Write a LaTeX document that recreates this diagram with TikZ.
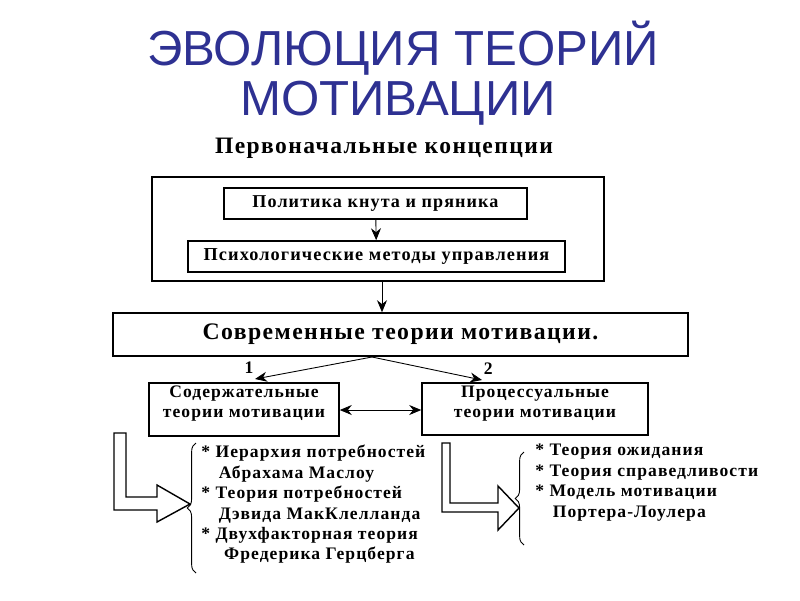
\documentclass[tikz,border=0pt]{standalone}
\usepackage{fontspec}
\setmainfont{Liberation Serif}
\newfontfamily\titlefont{Liberation Sans}
\usetikzlibrary{positioning,arrows,arrows.meta,decorations.pathreplacing}
\definecolor{titleblue}{RGB}{46,49,146}
\tikzset{
	frame/.style={draw,line width=0.9pt,inner sep=0pt},
	boxtext/.style={font={\fontsize{#1}{11.6}\selectfont\bfseries\addfontfeatures{LetterSpace=6}}},
	listtext/.style={boxtext=10,align=left,anchor=north west,inner sep=0pt},
	titletext/.style={font=\titlefont\fontsize{28}{30}\selectfont,text=titleblue},
	blockarrow/.style={draw,line width=0.8pt,fill=white},
	listbrace/.style={draw,decorate,decoration={brace,amplitude=5pt},line width=0.5pt},
	>={Stealth[length=2.4mm,width=2mm]}
}
\begin{document}
\begin{tikzpicture}[x=0.02cm,y=-0.02cm]
		\useasboundingbox (0,0) rectangle (800,600);
		% title
		\node[titletext] (title) at (403,48) {ЭВОЛЮЦИЯ ТЕОРИЙ};
		\node[titletext] (title2) at (398,103) {МОТИВАЦИИ};
		\node[boxtext=13.4] (head) at (384,148) {Первоначальные концепции};
		% initial concepts
		\node[frame,minimum width=9.04cm,minimum height=2.08cm] (init) at (378,229) {};
		\node[frame,boxtext=10.3,minimum width=6.06cm,minimum height=0.62cm] (whip) at (375.5,203.5) {Политика кнута и пряника};
		\node[frame,boxtext=10.4,minimum width=7.54cm,minimum height=0.62cm] (psy) at (376.5,256.5) {Психологические методы управления};
		% modern theories
		\node[frame,boxtext=13.5,minimum width=11.5cm,minimum height=0.86cm] (modern) at (400.5,334.5) {Современные теории мотивации.};
		\node[frame,minimum width=3.8cm,minimum height=1.06cm,
			label={[boxtext=10,align=center,anchor=north,yshift=1.5pt]north:{Содержательные\\теории мотивации}}] (content) at (244,409.5) {};
		\node[frame,minimum width=4.52cm,minimum height=1.04cm,
			label={[boxtext=10,align=center,anchor=north,yshift=1.5pt]north:{Процессуальные\\теории мотивации}}] (process) at (535,409) {};
		\coordinate (fork) at (372,357);
		\path[->,line width=0.5pt]
		(whip) edge (psy)
		(init.south -| 382,0) edge (modern.north -| 382,0)
		(fork) edge node [pos=0.97,above left=-1pt,boxtext=10] {1} (255,379)
		(fork) edge node [pos=0.97,above right=-1pt,boxtext=10] {2} (482,380);
		\draw[<->,line width=0.5pt] (content.east |- 0,410) -- (process.west |- 0,410);
		% lists
		\node[listtext] (needs) at (201,445) {* Иерархия потребностей\\
			\hspace*{1em}Абрахама Маслоу\\
			* Теория потребностей\\
			\hspace*{1em}Дэвида МакКлелланда\\
			* Двухфакторная теория\\
			\hspace*{1.3em}Фредерика Герцберга};
		\node[listtext] (expect) at (535,444) {* Теория ожидания\\
			* Теория справедливости\\
			* Модель мотивации\\
			\hspace*{1em}Портера-Лоулера};
		\draw[blockarrow] (114,433) -- (126,433) -- (126,497) -- (157,497) -- (157,485) -- (190,504)
			-- (157,522) -- (157,510) -- (114,510) -- cycle;
		\draw[blockarrow] (442,443) -- (450,443) -- (450,503) -- (498,503) -- (498,486) -- (519,508)
			-- (498,530) -- (498,512) -- (442,512) -- cycle;
		\draw[listbrace] (196,573) -- (196,443);
		\draw[listbrace] (524,545) -- (524,452);
	\end{tikzpicture}
\end{document}
